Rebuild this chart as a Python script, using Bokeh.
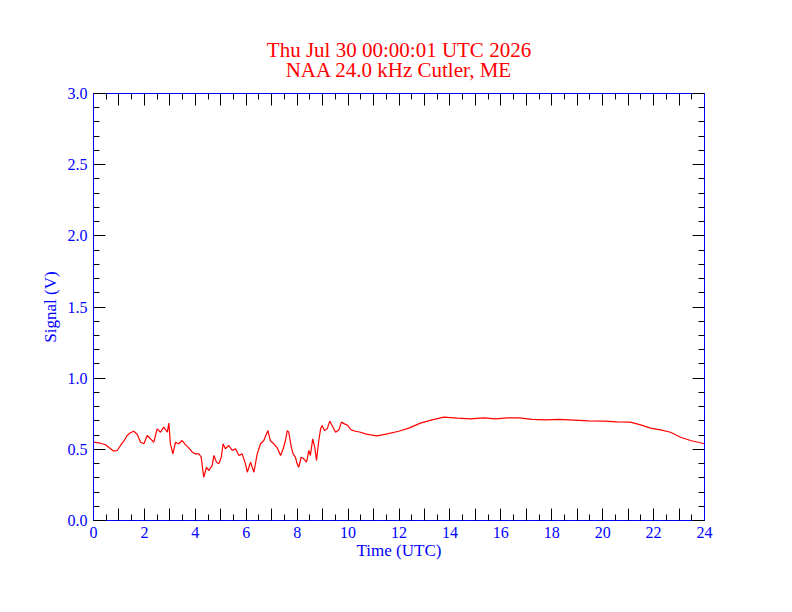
from bokeh.plotting import figure
from bokeh.models import Range1d, FixedTicker, LinearAxis, Title, PrintfTickFormatter
from bokeh.embed import file_html
from bokeh.resources import INLINE

# Texts
title_line1 = "Thu Jul 30 00:00:01 UTC 2026"
title_line2 = "NAA 24.0 kHz Cutler, ME"
x_label = "Time (UTC)"
y_label = "Signal (V)"

# Signal (hours UTC, volts)
hours = [0.00, 0.27, 0.47, 0.67, 0.80, 0.93, 1.06, 1.19, 1.32, 1.45,
         1.58, 1.72, 1.85, 1.98, 2.11, 2.24, 2.37, 2.50, 2.63, 2.76,
         2.90, 2.96, 3.02, 3.12, 3.22, 3.35, 3.48, 3.61, 3.74, 3.88,
         4.01, 4.14, 4.23, 4.33, 4.44, 4.53, 4.66, 4.73, 4.83, 4.92,
         5.02, 5.09, 5.18, 5.31, 5.45, 5.58, 5.71, 5.84, 5.97, 6.04,
         6.17, 6.30, 6.43, 6.56, 6.69, 6.85, 6.95, 7.08, 7.22, 7.35,
         7.45, 7.54, 7.61, 7.67, 7.77, 7.84, 7.93, 8.00, 8.06, 8.16,
         8.26, 8.37, 8.46, 8.52, 8.61, 8.69, 8.76, 8.85, 8.92, 8.98,
         9.07, 9.18, 9.28, 9.37, 9.51, 9.64, 9.74, 9.86, 9.99, 10.12,
         10.29, 10.49, 10.68, 10.88, 11.14, 11.54, 11.99, 12.39, 12.84, 13.30,
         13.76, 14.29, 14.81, 15.33, 15.79, 16.25, 16.71, 17.23, 17.75, 18.28,
         18.87, 19.46, 20.05, 20.57, 21.09, 21.49, 21.88, 22.27, 22.67, 23.06,
         23.45, 24.00]
signal = [0.550, 0.543, 0.532, 0.504, 0.487, 0.492, 0.527, 0.557, 0.597, 0.616,
          0.627, 0.604, 0.550, 0.539, 0.597, 0.574, 0.550, 0.644, 0.620, 0.656,
          0.620, 0.684, 0.539, 0.468, 0.550, 0.539, 0.562, 0.533, 0.510, 0.480,
          0.468, 0.468, 0.445, 0.304, 0.374, 0.351, 0.386, 0.457, 0.410, 0.398,
          0.445, 0.539, 0.504, 0.527, 0.492, 0.504, 0.457, 0.468, 0.398, 0.339,
          0.410, 0.339, 0.468, 0.539, 0.562, 0.632, 0.560, 0.539, 0.510, 0.457,
          0.504, 0.562, 0.632, 0.620, 0.515, 0.468, 0.445, 0.398, 0.374, 0.445,
          0.433, 0.410, 0.492, 0.457, 0.574, 0.515, 0.422, 0.562, 0.644, 0.667,
          0.632, 0.644, 0.698, 0.667, 0.620, 0.637, 0.691, 0.679, 0.667, 0.637,
          0.627, 0.620, 0.609, 0.602, 0.595, 0.609, 0.627, 0.649, 0.684, 0.707,
          0.726, 0.719, 0.714, 0.721, 0.714, 0.721, 0.721, 0.710, 0.707, 0.710,
          0.705, 0.700, 0.698, 0.693, 0.691, 0.672, 0.649, 0.637, 0.620, 0.585,
          0.562, 0.539]

# Ticks
x_major = list(range(0, 25))
x_minor = [h + 0.5 for h in range(24)]
x_tick_labels = {h: (str(h) if h % 2 == 0 else "") for h in x_major}
y_major = [0.0, 0.5, 1.0, 1.5, 2.0, 2.5, 3.0]
y_minor = [round(i * 0.1, 1) for i in range(31) if i % 5]

BLUE = "#0000FF"
RED = "#FF0000"
FONT = "Liberation Serif"

p = figure(width=776, height=596, output_backend="svg", toolbar_location=None,
           x_range=Range1d(0, 24), y_range=Range1d(0, 3),
           min_border_left=93, min_border_right=72,
           min_border_top=93, min_border_bottom=76)
p.background_fill_color = "white"
p.border_fill_color = "white"
p.outline_line_color = None
p.grid.visible = False

p.line(hours, signal, line_color=RED, line_width=1.2)

p.add_layout(LinearAxis(), "above")
p.add_layout(LinearAxis(), "right")


def style_axis(ax, major, minor, labels):
    ax.ticker = FixedTicker(ticks=major, minor_ticks=minor)
    ax.axis_line_color = BLUE
    ax.axis_line_width = 1
    ax.major_tick_line_color = "black"
    ax.minor_tick_line_color = "black"
    ax.major_tick_in = 12
    ax.major_tick_out = 0
    ax.minor_tick_in = 6
    ax.minor_tick_out = 0
    ax.major_label_text_font = FONT
    ax.major_label_standoff = 6
    if labels:
        ax.major_label_text_color = BLUE
        ax.major_label_text_font_size = "16px"
    else:
        ax.major_label_text_color = None
        ax.major_label_text_font_size = "1px"
    ax.axis_label_text_font = FONT
    ax.axis_label_text_color = BLUE
    ax.axis_label_text_font_size = "17px"
    ax.axis_label_text_font_style = "normal"


for ax in p.xaxis:
    style_axis(ax, x_major, x_minor, ax is p.below[0])
    ax.major_label_overrides = x_tick_labels
for ax in p.yaxis:
    style_axis(ax, y_major, y_minor, ax is p.left[0])
    ax.formatter = PrintfTickFormatter(format="%.1f")

p.below[0].axis_label = x_label
p.below[0].axis_label_standoff = 0
p.left[0].axis_label = y_label
p.left[0].axis_label_standoff = 5

# two title lines, the lower one added first so it sits next to the frame
for line, gap in [(title_line2, 24), (title_line1, -36)]:
    p.add_layout(Title(text=line, align="center", text_color=RED, text_font=FONT,
                       text_font_size="21px", text_font_style="normal",
                       text_line_height=0.95, standoff=gap, offset=0), "above")

open("out.html", "w").write(file_html(p, INLINE))
